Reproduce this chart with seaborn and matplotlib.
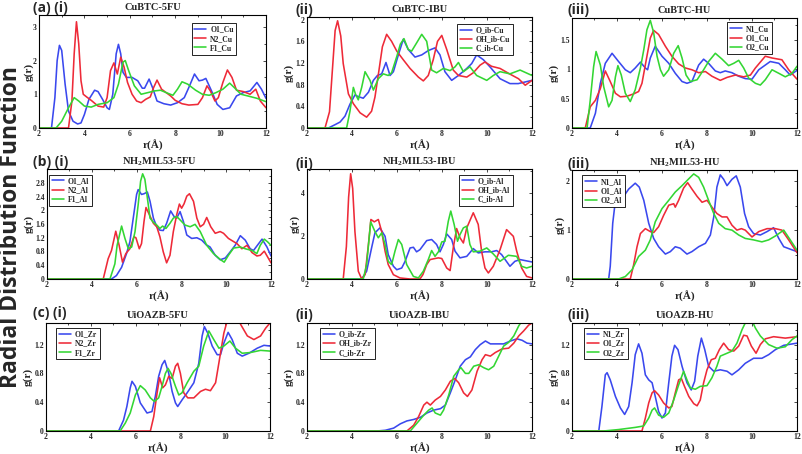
import matplotlib
matplotlib.use("Agg")
import matplotlib.pyplot as plt
import seaborn as sns
import pandas as pd
from matplotlib.ticker import FixedLocator, AutoMinorLocator

# ---------------- data: (r, g(r)) pairs ----------------
A1_O1_Cu = [(2,0),(2.55,0),(2.7,0.9),(2.8,2.0),(2.9,2.45),(3.0,2.3),(3.15,1.3),(3.3,0.5),(3.5,0.2),(3.7,0.12),(3.85,0.15),(4.0,0.4),(4.2,0.85),(4.45,1.12),(4.6,1.08),(4.8,0.85),(5.0,0.6),(5.1,0.55),(5.25,1.0),(5.4,2.2),(5.5,2.48),(5.6,2.2),(5.7,1.65),(5.85,1.5),(6.1,1.5),(6.35,1.4),(6.55,1.18),(6.65,1.18),(6.85,1.45),(7.0,1.2),(7.2,0.8),(7.5,0.72),(7.8,0.68),(8.1,0.75),(8.4,0.9),(8.6,1.2),(8.85,1.6),(9.05,1.4),(9.2,1.42),(9.35,1.47),(9.6,1.1),(9.85,0.7),(10.1,0.55),(10.4,0.6),(10.7,0.95),(11.0,1.05),(11.3,1.1),(11.6,1.35),(11.8,1.15),(12.0,0.88)]
A1_N2_Cu = [(2,0),(3.3,0),(3.45,0.8),(3.55,2.2),(3.65,3.15),(3.75,2.5),(3.85,1.4),(3.95,1.0),(4.1,0.92),(4.3,0.82),(4.6,0.65),(4.85,0.62),(5.0,0.9),(5.15,1.7),(5.3,1.93),(5.45,1.6),(5.6,2.1),(5.75,1.8),(5.9,1.35),(6.1,1.0),(6.3,0.8),(6.5,0.75),(6.7,0.85),(6.9,0.92),(7.05,1.2),(7.2,1.42),(7.4,1.15),(7.6,1.05),(7.8,0.95),(8.0,0.82),(8.3,0.72),(8.6,0.68),(9.0,0.7),(9.2,0.9),(9.4,1.25),(9.55,1.1),(9.75,0.8),(9.9,0.9),(10.1,1.35),(10.3,1.72),(10.5,1.5),(10.7,1.12),(11.0,1.08),(11.3,1.0),(11.55,1.15),(11.75,0.8),(12.0,0.6)]
A1_F1_Cu = [(2,0),(2.75,0),(3.0,0.2),(3.3,0.6),(3.55,0.9),(3.75,0.8),(4.0,0.65),(4.3,0.62),(4.6,0.7),(5.0,0.75),(5.3,0.9),(5.5,1.3),(5.7,1.95),(5.8,2.0),(5.95,1.7),(6.2,1.25),(6.5,1.0),(6.8,1.05),(7.1,1.1),(7.35,1.12),(7.6,1.05),(7.9,0.97),(8.1,1.15),(8.3,1.37),(8.55,1.3),(8.9,1.12),(9.2,1.0),(9.5,0.97),(9.8,1.05),(10.1,1.15),(10.4,1.33),(10.6,1.2),(10.9,1.0),(11.2,0.95),(11.6,0.88),(12.0,0.78)]

A2_O_ib_Cu = [(2,0),(2.95,0),(3.24,0.06),(3.47,0.11),(3.69,0.22),(3.91,0.44),(4.13,0.61),(4.28,0.58),(4.5,0.55),(4.73,0.66),(4.95,0.88),(5.13,0.97),(5.32,1.0),(5.51,1.21),(5.69,0.97),(5.84,1.04),(6.06,1.35),(6.28,1.64),(6.5,1.45),(6.8,1.31),(7.1,1.35),(7.39,1.43),(7.69,1.48),(7.91,1.35),(8.13,1.04),(8.43,0.88),(8.73,0.97),(9.1,1.1),(9.32,1.19),(9.54,1.35),(9.84,1.26),(10.13,1.13),(10.58,0.91),(11.02,0.82),(11.39,0.82),(12.0,0.88)]
A2_OH_ib_Cu = [(2,0),(2.8,0),(3.0,0.3),(3.15,1.2),(3.25,1.8),(3.36,1.98),(3.5,1.7),(3.61,1.19),(3.84,0.63),(4.06,0.45),(4.36,0.28),(4.65,0.2),(4.87,0.31),(5.02,0.57),(5.2,1.07),(5.35,1.5),(5.54,1.73),(5.76,1.6),(5.99,1.42),(6.28,1.26),(6.58,1.1),(6.95,0.94),(7.17,0.87),(7.39,0.97),(7.61,1.26),(7.8,1.6),(7.99,1.71),(8.21,1.45),(8.5,1.07),(8.73,0.97),(9.1,0.94),(9.39,1.02),(9.69,1.16),(9.91,1.22),(10.2,1.14),(10.58,1.1),(11.0,1.0),(11.4,0.91),(11.7,0.79),(12.0,0.88)]
A2_C_ib_Cu = [(2,0),(3.76,0),(3.91,0.31),(4.06,0.75),(4.16,0.62),(4.28,0.52),(4.43,0.75),(4.58,1.04),(4.8,0.88),(4.95,0.7),(5.17,0.91),(5.39,1.0),(5.61,0.97),(5.76,1.02),(5.99,1.32),(6.15,1.55),(6.31,1.65),(6.5,1.45),(6.65,1.42),(6.87,1.57),(7.1,1.73),(7.32,1.6),(7.54,1.07),(7.76,1.02),(8.06,1.1),(8.36,1.06),(8.58,1.13),(8.73,1.21),(8.95,1.04),(9.24,1.13),(9.54,0.97),(9.99,0.88),(10.28,0.97),(10.58,1.04),(11.02,1.0),(11.47,1.07),(12.0,0.97)]

A3_N1_Cu = [(2,0),(2.81,0),(3.04,0.25),(3.26,0.76),(3.48,1.1),(3.78,1.27),(4.07,1.13),(4.37,0.99),(4.59,0.94),(4.81,1.02),(5.04,1.12),(5.26,1.02),(5.36,0.99),(5.48,1.19),(5.7,1.39),(6.0,1.22),(6.3,1.1),(6.59,0.93),(6.89,0.79),(7.11,0.76),(7.33,0.79),(7.63,1.07),(7.85,1.17),(8.07,1.1),(8.37,0.97),(8.59,0.94),(8.81,0.97),(9.11,0.94),(9.41,0.88),(9.7,0.84),(10.0,0.83),(10.3,0.99),(10.81,1.13),(11.19,1.1),(11.48,0.99),(11.7,0.9),(12.0,0.98)]
A3_O1_Cu = [(2,0),(2.59,0),(2.81,0.36),(3.04,0.47),(3.26,0.67),(3.48,0.97),(3.7,0.79),(3.93,0.59),(4.15,0.53),(4.44,0.54),(4.74,0.58),(4.96,0.62),(5.11,0.76),(5.33,1.22),(5.48,1.53),(5.63,1.66),(5.85,1.59),(6.15,1.39),(6.44,1.22),(6.74,1.09),(7.04,1.02),(7.33,0.99),(7.63,0.94),(7.93,0.96),(8.22,0.88),(8.59,0.81),(8.89,0.86),(9.26,0.9),(9.63,0.87),(9.93,0.9),(10.15,1.02),(10.59,1.22),(10.89,1.19),(11.33,1.16),(11.63,0.99),(12.0,0.83)]
A3_O2_Cu = [(2,0),(2.67,0),(2.81,0.47),(2.96,1.04),(3.07,1.3),(3.26,1.07),(3.41,0.7),(3.63,0.36),(3.78,0.47),(3.93,0.87),(4.04,1.06),(4.19,0.9),(4.37,0.59),(4.59,0.45),(4.81,0.65),(5.04,1.02),(5.19,1.33),(5.33,1.67),(5.48,1.83),(5.63,1.62),(5.78,1.22),(5.93,0.99),(6.07,0.88),(6.3,0.99),(6.52,1.27),(6.72,1.4),(6.89,1.19),(7.07,0.9),(7.26,0.79),(7.56,0.82),(7.85,0.99),(8.07,1.13),(8.37,1.27),(8.67,1.17),(8.96,1.06),(9.19,1.1),(9.41,1.15),(9.63,1.02),(9.85,0.85),(10.15,0.76),(10.37,0.73),(10.59,0.82),(10.89,0.99),(11.19,0.93),(11.48,0.87),(11.78,0.93),(12.0,1.05)]

B1_O1_Al = [(2,0),(4.88,0),(5.1,0.1),(5.33,0.34),(5.55,0.74),(5.7,1.08),(5.85,1.77),(6.0,2.46),(6.07,2.6),(6.22,2.46),(6.33,2.48),(6.48,2.53),(6.6,2.26),(6.75,1.77),(6.9,1.52),(7.04,1.42),(7.19,1.41),(7.34,1.62),(7.52,1.98),(7.67,1.82),(7.79,1.77),(7.94,1.96),(8.09,1.67),(8.24,1.28),(8.46,1.18),(8.69,1.2),(8.91,1.13),(9.1,1.0),(9.28,0.93),(9.51,0.69),(9.73,0.56),(9.96,0.61),(10.18,0.79),(10.4,0.98),(10.63,1.26),(10.85,1.13),(11.07,0.88),(11.22,0.83),(11.45,1.03),(11.6,1.16),(11.82,0.93),(12.0,0.67)]
B1_N2_Al = [(2,0),(4.51,0),(4.73,0.59),(4.88,0.83),(5.07,1.39),(5.22,0.98),(5.37,0.49),(5.52,0.74),(5.7,0.88),(5.88,1.23),(5.97,1.2),(6.12,0.88),(6.22,1.03),(6.33,1.67),(6.42,2.08),(6.57,1.87),(6.75,1.62),(6.9,1.52),(7.04,1.23),(7.19,0.79),(7.34,0.47),(7.49,0.69),(7.64,1.38),(7.79,1.87),(7.91,2.18),(8.01,2.06),(8.12,2.19),(8.24,2.41),(8.36,2.48),(8.54,2.26),(8.69,1.77),(8.84,1.52),(8.99,1.59),(9.13,1.79),(9.31,1.52),(9.51,1.33),(9.73,1.38),(9.88,1.33),(10.1,1.18),(10.3,1.1),(10.48,1.03),(10.7,0.88),(10.93,0.98),(11.15,0.77),(11.37,0.67),(11.52,0.69),(11.7,0.81),(11.85,0.64),(12.0,0.47)]
B1_F1_Al = [(2,0),(4.81,0),(5.03,0.44),(5.13,0.98),(5.33,1.54),(5.48,1.18),(5.63,0.88),(5.78,0.93),(5.93,1.38),(6.07,2.16),(6.18,2.85),(6.27,3.06),(6.37,2.9),(6.48,2.36),(6.6,1.77),(6.75,1.65),(6.9,1.57),(7.04,1.47),(7.16,1.54),(7.31,1.47),(7.49,1.62),(7.64,1.77),(7.79,1.82),(7.94,1.72),(8.16,1.57),(8.39,1.52),(8.61,1.59),(8.84,1.38),(9.13,0.98),(9.43,0.74),(9.73,0.57),(9.91,0.49),(10.1,0.69),(10.33,0.9),(10.63,0.93),(10.85,0.88),(11.15,0.83),(11.37,0.74),(11.52,0.98),(11.7,1.16),(11.85,1.08),(12.0,0.98)]

B2_O_ib_Al = [(2,0),(4.43,0),(4.65,0.36),(4.87,1.44),(5.02,2.14),(5.24,2.37),(5.47,1.98),(5.61,1.13),(5.84,0.59),(5.99,0.43),(6.21,0.51),(6.36,0.82),(6.58,1.44),(6.73,1.47),(6.87,1.26),(7.02,1.36),(7.32,1.78),(7.54,1.83),(7.76,1.6),(7.91,1.26),(8.06,1.6),(8.21,2.09),(8.43,1.83),(8.58,1.29),(8.8,0.98),(9.1,1.05),(9.39,1.41),(9.61,1.21),(9.91,1.26),(10.2,1.26),(10.43,1.32),(10.65,1.13),(11.02,0.59),(11.24,0.82),(11.47,0.9),(12.0,0.79)]
B2_OH_ib_Al = [(2,0),(3.61,0),(3.75,1.5),(3.85,3.8),(3.94,4.88),(4.03,4.2),(4.13,2.2),(4.28,0.36),(4.43,0),(4.58,0.2),(4.73,1.6),(4.84,2.76),(4.99,2.65),(5.17,2.76),(5.32,2.2),(5.47,1.29),(5.61,0.67),(5.84,0.2),(6.13,0.05),(6.58,0),(7.02,0),(7.15,0.2),(7.32,0.67),(7.47,0.9),(7.69,0.95),(7.84,0.98),(7.99,0.95),(8.21,0.51),(8.36,0.39),(8.5,1.44),(8.65,2.34),(8.8,1.91),(8.95,1.67),(9.1,2.37),(9.39,3.07),(9.61,2.53),(9.76,1.29),(9.91,0.51),(10.06,0.28),(10.28,0.59),(10.58,1.36),(10.87,2.29),(11.17,1.98),(11.32,1.29),(11.54,0.51),(11.76,0.12),(12.0,0.05)]
B2_C_ib_Al = [(2,0),(4.5,0),(4.65,0.67),(4.83,2.65),(5.02,2.2),(5.17,1.91),(5.32,2.14),(5.47,1.6),(5.61,0.82),(5.76,0.67),(5.91,1.29),(6.06,1.83),(6.21,1.6),(6.43,0.67),(6.73,0.12),(6.95,0.05),(7.17,0.36),(7.39,0.9),(7.54,1.32),(7.69,1.05),(7.84,1.26),(7.99,1.72),(8.13,1.75),(8.28,2.68),(8.39,3.15),(8.54,2.53),(8.69,1.75),(8.8,2.06),(8.95,2.37),(9.1,2.45),(9.24,1.6),(9.39,1.26),(9.69,1.29),(9.99,1.44),(10.28,1.16),(10.58,0.82),(10.95,1.1),(11.32,1.05),(11.54,0.59),(11.76,0.51),(12.0,0.59)]

B3_N1_Al = [(2,0),(3.63,0),(3.7,0.26),(3.81,1.14),(3.93,1.61),(4.04,1.73),(4.19,1.69),(4.34,1.72),(4.52,1.84),(4.81,1.96),(4.99,1.88),(5.19,1.61),(5.41,1.14),(5.63,0.83),(5.85,0.66),(6.15,0.51),(6.37,0.56),(6.59,0.66),(6.81,0.63),(7.11,0.51),(7.33,0.56),(7.63,0.66),(7.93,0.73),(8.15,0.9),(8.3,1.27),(8.44,1.88),(8.59,2.13),(8.74,2.04),(8.89,1.91),(9.11,2.04),(9.3,2.11),(9.48,1.88),(9.67,1.34),(9.85,1.07),(10.07,0.93),(10.37,0.9),(10.67,0.97),(10.96,1.05),(11.19,0.83),(11.41,0.66),(11.7,0.61),(12.0,0.56)]
B3_O1_Al = [(2,0),(4.59,0),(4.74,0.29),(4.89,0.66),(5.04,0.93),(5.26,1.03),(5.48,0.97),(5.63,0.95),(5.85,1.07),(6.07,1.3),(6.3,1.51),(6.52,1.54),(6.59,1.47),(6.74,1.61),(6.96,1.86),(7.14,1.97),(7.33,1.84),(7.56,1.69),(7.78,1.57),(8.0,1.61),(8.22,1.47),(8.44,1.34),(8.67,1.27),(8.89,1.27),(9.11,1.1),(9.33,1.0),(9.53,1.03),(9.7,1.0),(10.0,0.86),(10.3,0.97),(10.67,1.03),(11.04,1.03),(11.33,1.0),(11.63,0.8),(12.0,0.54)]
B3_O2_Al = [(2,0),(4.07,0),(4.37,0.05),(4.67,0.19),(4.96,0.46),(5.26,0.59),(5.48,0.8),(5.7,1.17),(6.0,1.44),(6.3,1.61),(6.59,1.78),(6.89,1.91),(7.19,2.05),(7.41,2.15),(7.63,2.08),(7.85,1.88),(8.07,1.61),(8.3,1.34),(8.52,1.14),(8.81,1.03),(9.11,1.0),(9.41,0.9),(9.7,0.83),(10.07,0.8),(10.44,0.76),(10.74,0.8),(11.04,0.88),(11.41,1.0),(11.7,0.8),(12.0,0.59)]

C1_O1_Zr = [(2,0),(5.24,0),(5.46,0.15),(5.61,0.34),(5.76,0.6),(5.84,0.69),(5.99,0.62),(6.21,0.39),(6.51,0.25),(6.73,0.27),(6.88,0.48),(7.03,0.76),(7.18,0.92),(7.3,0.98),(7.48,0.8),(7.63,0.55),(7.78,0.39),(7.88,0.34),(8.07,0.43),(8.3,0.53),(8.6,0.67),(8.82,0.94),(8.97,1.32),(9.07,1.45),(9.22,1.36),(9.42,1.18),(9.64,1.06),(9.79,1.06),(9.94,1.22),(10.13,1.37),(10.31,1.27),(10.54,1.08),(10.76,1.04),(11.06,1.08),(11.43,1.15),(11.73,1.19),(12.0,1.18)]
C1_N2_Zr = [(2,0),(6.66,0),(6.81,0.2),(6.96,0.53),(7.07,0.74),(7.21,0.6),(7.33,0.64),(7.48,0.76),(7.63,0.73),(7.78,0.9),(7.88,0.94),(8.0,0.8),(8.15,0.53),(8.33,0.46),(8.6,0.46),(8.9,0.55),(9.12,0.58),(9.34,0.56),(9.57,0.67),(9.79,1.08),(9.94,1.36),(10.09,1.53),(10.25,1.68),(10.45,1.68),(10.6,1.55),(10.69,1.48),(10.99,1.32),(11.28,1.27),(11.58,1.32),(11.81,1.43),(12.0,1.5)]
C1_F1_Zr = [(2,0),(5.31,0),(5.54,0.11),(5.76,0.25),(5.99,0.5),(6.21,0.63),(6.43,0.57),(6.66,0.46),(6.84,0.41),(7.03,0.46),(7.18,0.62),(7.33,0.8),(7.45,0.87),(7.58,0.8),(7.78,0.62),(7.93,0.5),(8.07,0.53),(8.3,0.67),(8.6,0.83),(8.82,0.9),(9.04,1.18),(9.27,1.39),(9.49,1.27),(9.72,1.15),(9.94,1.18),(10.21,1.25),(10.46,1.15),(10.76,1.08),(11.13,1.09),(11.58,1.12),(12.0,1.11)]

C2_O_ib_Zr = [(2,0),(5.11,0),(5.48,0.01),(5.85,0.04),(6.15,0.1),(6.44,0.14),(6.74,0.16),(7.04,0.19),(7.33,0.25),(7.63,0.29),(7.93,0.31),(8.15,0.36),(8.37,0.53),(8.59,0.71),(8.81,0.9),(9.04,0.99),(9.26,1.03),(9.48,1.13),(9.7,1.2),(9.93,1.25),(10.15,1.21),(10.44,1.21),(10.74,1.21),(11.04,1.25),(11.33,1.28),(11.56,1.26),(11.78,1.22),(12.0,1.21)]
C2_OH_ib_Zr = [(2,0),(6.44,0),(6.74,0.08),(6.96,0.2),(7.19,0.36),(7.33,0.4),(7.48,0.36),(7.7,0.43),(7.93,0.48),(8.15,0.57),(8.37,0.69),(8.56,0.73),(8.74,0.67),(8.96,0.53),(9.13,0.48),(9.33,0.57),(9.56,0.83),(9.78,0.99),(9.93,1.06),(10.15,1.04),(10.37,1.09),(10.67,1.14),(10.96,1.15),(11.19,1.22),(11.41,1.32),(11.63,1.39),(11.85,1.47),(12.0,1.5)]
C2_C_ib_Zr = [(2,0),(6.59,0),(6.89,0.11),(7.19,0.22),(7.41,0.29),(7.56,0.32),(7.7,0.25),(7.93,0.22),(8.07,0.29),(8.3,0.5),(8.52,0.76),(8.74,0.85),(8.84,0.88),(9.04,0.8),(9.19,0.8),(9.41,0.9),(9.63,0.92),(9.85,0.88),(10.07,0.85),(10.3,0.9),(10.52,1.04),(10.74,1.18),(10.96,1.23),(11.19,1.32),(11.41,1.46),(11.56,1.53),(11.75,1.7),(12.0,1.85)]

C3_N1_Zr = [(2,0),(3.19,0),(3.33,0.34),(3.48,0.78),(3.56,0.81),(3.7,0.71),(3.93,0.48),(4.15,0.32),(4.34,0.23),(4.52,0.34),(4.67,0.67),(4.81,1.06),(4.96,1.21),(5.11,1.08),(5.26,0.78),(5.41,0.71),(5.56,0.67),(5.7,0.48),(5.85,0.27),(6.0,0.18),(6.15,0.25),(6.3,0.67),(6.44,1.04),(6.56,1.19),(6.71,1.13),(6.89,0.9),(7.11,0.67),(7.3,0.57),(7.45,0.69),(7.59,1.04),(7.75,1.29),(7.9,1.13),(8.07,0.9),(8.3,0.83),(8.59,0.85),(8.89,0.83),(9.11,0.78),(9.41,0.85),(9.7,0.94),(10.07,1.01),(10.44,1.01),(10.74,1.06),(11.04,1.13),(11.41,1.19),(12.0,1.22)]
C3_O1_Zr = [(2,0),(5.11,0),(5.26,0.18),(5.41,0.39),(5.56,0.53),(5.67,0.56),(5.85,0.5),(6.07,0.39),(6.3,0.32),(6.44,0.34),(6.59,0.53),(6.74,0.71),(6.86,0.73),(7.0,0.62),(7.19,0.48),(7.41,0.38),(7.56,0.35),(7.7,0.43),(7.85,0.67),(8.0,0.85),(8.19,0.99),(8.37,1.01),(8.55,1.13),(8.74,1.22),(8.96,1.13),(9.19,1.11),(9.41,1.18),(9.63,1.33),(9.78,1.32),(9.97,1.18),(10.18,1.08),(10.37,1.2),(10.59,1.28),(10.96,1.31),(11.48,1.29),(12.0,1.31)]
C3_O2_Zr = [(2,0),(3.4,0),(4.07,0.02),(4.81,0.05),(5.19,0.07),(5.41,0.18),(5.56,0.29),(5.67,0.32),(5.85,0.22),(6.07,0.19),(6.3,0.25),(6.52,0.43),(6.74,0.64),(6.96,0.83),(7.11,0.71),(7.26,0.6),(7.48,0.58),(7.7,0.62),(8.0,0.63),(8.22,0.74),(8.44,0.9),(8.59,1.04),(8.89,1.08),(9.11,1.11),(9.33,1.22),(9.56,1.41),(9.7,1.5),(9.9,1.56),(10.05,1.5),(10.15,1.43),(10.37,1.32),(10.74,1.2),(11.11,1.15),(11.48,1.17),(11.78,1.27),(12.0,1.32)]

TITLES = ["CuBTC-5FU", "CuBTC-IBU", "CuBTC-HU",
          "NH$_2$MIL53-5FU", "NH$_2$MIL53-IBU", "NH$_2$MIL53-HU",
          "UiOAZB-5FU", "UiOAZB-IBU", "UiOAZB-HU"]
PANEL_TAGS = ["(a) (i)", "(ii)", "(iii)", "(b) (i)", "(ii)", "(iii)", "(c) (i)", "(ii)", "(iii)"]
SERIES = [
    [A1_O1_Cu, A1_N2_Cu, A1_F1_Cu], [A2_O_ib_Cu, A2_OH_ib_Cu, A2_C_ib_Cu], [A3_N1_Cu, A3_O1_Cu, A3_O2_Cu],
    [B1_O1_Al, B1_N2_Al, B1_F1_Al], [B2_O_ib_Al, B2_OH_ib_Al, B2_C_ib_Al], [B3_N1_Al, B3_O1_Al, B3_O2_Al],
    [C1_O1_Zr, C1_N2_Zr, C1_F1_Zr], [C2_O_ib_Zr, C2_OH_ib_Zr, C2_C_ib_Zr], [C3_N1_Zr, C3_O1_Zr, C3_O2_Zr],
]
LABELS = [
    ["O1_Cu", "N2_Cu", "F1_Cu"], ["O_ib-Cu", "OH_ib-Cu", "C_ib-Cu"], ["N1_Cu", "O1_Cu", "O2_Cu"],
    ["O1_Al", "N2_Al", "F1_Al"], ["O_ib-Al", "OH_ib-Al", "C_ib-Al"], ["N1_Al", "O1_Al", "O2_Al"],
    ["O1_Zr", "N2_Zr", "F1_Zr"], ["O_ib-Zr", "OH_ib-Zr", "C_ib-Zr"], ["N1_Zr", "O1_Zr", "O2_Zr"],
]
YTICKS = [[0, 1, 2, 3], [0, 0.4, 0.8, 1.2, 1.6, 2], [0, 0.5, 1, 1.5],
          [0, 0.4, 0.8, 1.2, 1.6, 2, 2.4, 2.8], [0, 2, 4], [0, 1, 2],
          [0, 0.4, 0.8, 1.2], [0, 0.4, 0.8, 1.2], [0, 0.4, 0.8, 1.2]]
YMAX = [3.35, 2.05, 1.87, 3.2, 5.1, 2.23, 1.5, 1.5, 1.5]
XTICKS = [2, 4, 6, 8, 10, 12]

# ---------------- style / layout ----------------
sns.set_theme(style="white")
plt.rcParams["font.family"] = ["Liberation Serif", "DejaVu Serif"]
plt.rcParams["font.weight"] = "bold"
plt.rcParams["mathtext.fontset"] = "custom"
plt.rcParams["mathtext.rm"] = "Liberation Serif:bold"
plt.rcParams["mathtext.bf"] = "Liberation Serif:bold"
plt.rcParams["mathtext.it"] = "Liberation Serif:bold:italic"

COLORS = ["#3a48ee", "#ee2a38", "#33d633"]
W, H = 803, 454
# axes boxes in pixels: (left, top, right, bottom)
BOXES = [(39, 15, 266, 128), (307, 17, 532, 128), (572, 18, 797, 128),
         (47, 169, 271, 279), (307, 169, 532, 279), (572, 170, 797, 279),
         (46, 323, 270, 431), (307, 323, 532, 431), (572, 323, 797, 431)]
LEG = [("upper right", (0.87, 0.93)), ("upper right", (0.915, 0.94)), ("upper right", (0.89, 0.96)),
       ("upper left", (0.01, 0.95)), ("upper right", (0.915, 0.95)), ("upper left", (0.045, 0.95)),
       ("upper left", (0.045, 0.955)), ("upper left", (0.058, 0.955)), ("upper left", (0.053, 0.955))]
TAG_POS = [(33, 8), (295, 10), (568, 10), (33, 162), (295, 164), (568, 164), (33, 313), (295, 315), (568, 315)]
YLABELPAD = [-0.5, 1, 1, 1, 1, 1, 1, 1, 1]

fig = plt.figure(figsize=(W / 100, H / 100), dpi=100)
fig.patch.set_facecolor("white")

for i in range(9):
    l, t, r, b = BOXES[i]
    ax = fig.add_axes([l / W, 1 - b / H, (r - l) / W, (b - t) / H])
    for data, lab, col in zip(SERIES[i], LABELS[i], COLORS):
        df = pd.DataFrame(data, columns=["r", "g"])
        sns.lineplot(data=df, x="r", y="g", ax=ax, color=col, label=lab,
                     linewidth=1.15, sort=False, estimator=None)
    ax.set_xlim(2, 12)
    ax.set_ylim(0, YMAX[i])
    ax.xaxis.set_major_locator(FixedLocator(XTICKS))
    ax.set_xticklabels([f"{v:g}" for v in XTICKS])
    ax.yaxis.set_major_locator(FixedLocator(YTICKS[i]))
    ax.set_yticklabels([f"{v:g}" for v in YTICKS[i]])
    ax.xaxis.set_minor_locator(AutoMinorLocator(2))
    ax.yaxis.set_minor_locator(AutoMinorLocator(2))
    ax.tick_params(which="both", direction="in", top=True, right=True,
                   labelsize=5.5, pad=1.5, width=0.5, color="black")
    ax.tick_params(which="major", length=2.5)
    ax.tick_params(which="minor", length=1.3)
    for lbl in ax.get_xticklabels() + ax.get_yticklabels():
        lbl.set_fontweight("bold")
    for sp in ax.spines.values():
        sp.set_color("black")
        sp.set_linewidth(0.8)
    ax.set_xlabel("r(Å)", fontsize=8, fontweight="bold", labelpad=1.5)
    ax.set_ylabel("g(r)", fontsize=8, fontweight="bold", labelpad=YLABELPAD[i])
    ax.set_title(TITLES[i], fontsize=7.5, fontweight="bold", pad=3.5)
    loc, anchor = LEG[i]
    leg = ax.legend(loc=loc, bbox_to_anchor=anchor, fontsize=5.5, frameon=True, fancybox=False,
                    framealpha=1, edgecolor="black", handlelength=1.6, handletextpad=0.5,
                    labelspacing=0.15, borderpad=0.35, borderaxespad=0)
    leg.get_frame().set_linewidth(0.6)
    for txt in leg.get_texts():
        txt.set_fontweight("bold")
    tx, ty = TAG_POS[i]
    fig.text(tx / W, 1 - ty / H, PANEL_TAGS[i], ha="left", va="center", fontsize=10,
             fontweight="bold", family=["Open Sans", "DejaVu Sans"])

fig.text(11 / W, 1 - 227 / H, "Radial Distribution Function", rotation=90, ha="center", va="center",
         fontsize=16.5, fontweight="bold", family=["Open Sans", "DejaVu Sans"])

fig.savefig("out.png", dpi=100, facecolor="white")
